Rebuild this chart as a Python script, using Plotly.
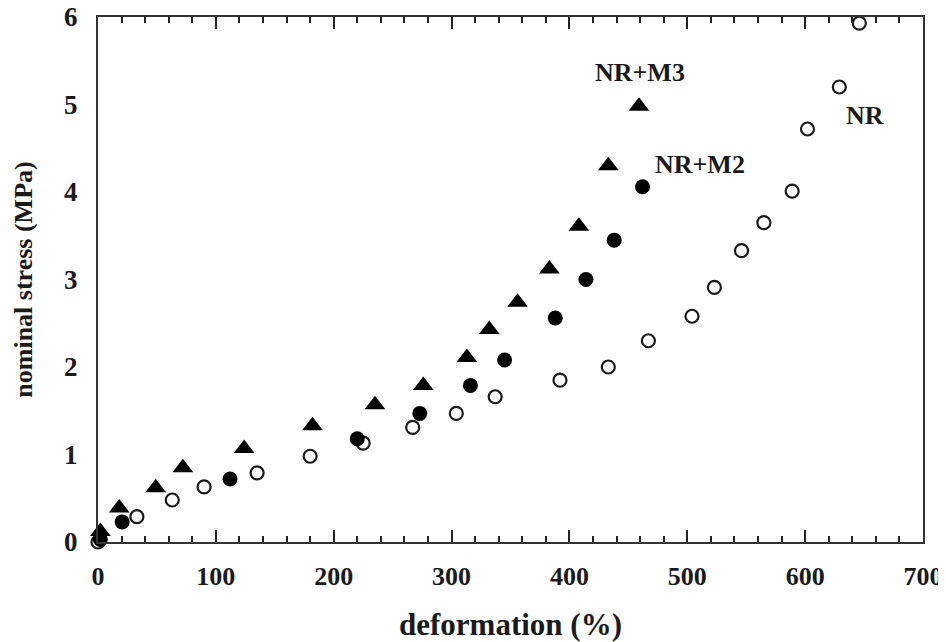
import plotly.graph_objects as go

# NR (open circles)
nr_x = [0, 33, 63, 90, 135, 180, 225, 267, 304, 337, 392, 433, 467, 504, 523, 546, 565, 589, 602, 629, 646]
nr_y = [0, 0.29, 0.48, 0.63, 0.79, 0.98, 1.13, 1.31, 1.47, 1.66, 1.85, 2.00, 2.30, 2.58, 2.91, 3.33, 3.65, 4.01, 4.72, 5.20, 5.93]

# NR+M2 (filled circles)
m2_x = [2, 20.5, 112, 220, 273, 316, 345, 388, 414, 438, 462]
m2_y = [0.03, 0.23, 0.72, 1.18, 1.47, 1.79, 2.08, 2.56, 3.00, 3.45, 4.06]

# NR+M3 (filled triangles)
m3_x = [2, 18, 49, 72, 124, 182, 235, 276, 313, 332, 356, 383, 408, 433, 459]
m3_y = [0.12, 0.39, 0.62, 0.85, 1.07, 1.33, 1.57, 1.79, 2.11, 2.43, 2.74, 3.12, 3.61, 4.30, 4.98]

x_ticks = [0, 100, 200, 300, 400, 500, 600, 700]
y_ticks = [0, 1, 2, 3, 4, 5, 6]

labels = ["NR+M3", "NR+M2", "NR"]
label_x = [460, 511, 651]
label_y = [5.37, 4.31, 4.88]

FONT = "Liberation Serif"
INK = "#1a1a1a"

fig = go.Figure()
fig.add_trace(go.Scatter(x=nr_x, y=nr_y, mode="markers", name="NR", cliponaxis=False,
                         marker=dict(symbol="circle-open", size=13, color=INK, line=dict(width=2.2, color=INK))))
fig.add_trace(go.Scatter(x=m2_x, y=m2_y, mode="markers", name="NR+M2", cliponaxis=False,
                         marker=dict(symbol="circle", size=15, color="black", line=dict(width=0))))
fig.add_trace(go.Scatter(x=m3_x, y=m3_y, mode="markers", name="NR+M3", cliponaxis=False,
                         marker=dict(symbol="triangle-up", size=18, color="black", line=dict(width=0))))

for t, lx, ly in zip(labels, label_x, label_y):
    fig.add_annotation(x=lx, y=ly, text=t, showarrow=False,
                       font=dict(family=FONT, size=26, color=INK, weight="bold"))

fig.update_layout(
    width=938, height=634,
    margin=dict(l=90, r=23, t=9, b=100),
    paper_bgcolor="white", plot_bgcolor="white",
    showlegend=False,
    font=dict(family=FONT, color=INK, weight="bold"),
)
fig.update_xaxes(
    range=[0, 700], tickvals=x_ticks, ticktext=[str(v) for v in x_ticks], automargin=False,
    ticklabeloverflow="allow",
    showgrid=False, zeroline=False, showline=True, linecolor="#333", linewidth=2, mirror="ticks",
    ticks="inside", ticklen=12, tickwidth=1.5, tickcolor="#222",
    minor=dict(dtick=20, ticks="inside", ticklen=6, tickwidth=1.5, tickcolor="#222", showgrid=False),
    tickfont=dict(family=FONT, size=26, color=INK, weight="bold"), ticklabelstandoff=10,
    title=dict(text="deformation (%)", font=dict(family=FONT, size=31, color=INK, weight="bold"), standoff=23),
)
fig.update_yaxes(
    range=[0, 6], tickvals=y_ticks, ticktext=[str(v) for v in y_ticks], automargin=False,
    ticklabeloverflow="allow",
    showgrid=False, zeroline=False, showline=True, linecolor="#333", linewidth=2, mirror=True,
    ticks="", tickfont=dict(family=FONT, size=27, color=INK, weight="bold"), ticklabelstandoff=13,
    title=dict(text="nominal stress (MPa)", font=dict(family=FONT, size=26, color=INK, weight="bold"), standoff=24),
)

fig.write_html("out.html")
